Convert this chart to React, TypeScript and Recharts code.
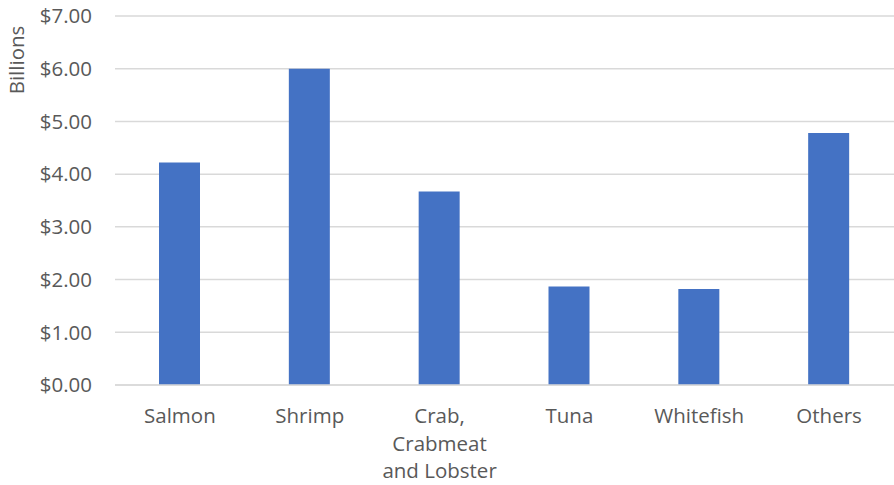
import React from 'react';
import { BarChart, Bar, XAxis, YAxis, CartesianGrid } from 'recharts';

const categories = ['Salmon', 'Shrimp', 'Crab, Crabmeat and Lobster', 'Tuna', 'Whitefish', 'Others'];
const categoryLines = [['Salmon'], ['Shrimp'], ['Crab,', 'Crabmeat', 'and Lobster'], ['Tuna'], ['Whitefish'], ['Others']];
const values = [4.22, 6.0, 3.67, 1.87, 1.82, 4.78];
const yTicks = [0, 1, 2, 3, 4, 5, 6, 7];

const FONT = '"Open Sans", sans-serif';
const FONT_SIZE = 20.5;
const TEXT_COLOR = '#595959';
const GRID_COLOR = '#d9d9d9';
const BAR_COLOR = '#4472c4';

const chartData = categories.map((name, i) => ({ name, value: values[i] }));

// multi-line category labels, centred under each bar
function CategoryTick(props: any) {
  const { x, y, payload } = props;
  const lines = categoryLines[payload.index] ?? [payload.value];
  return (
    <text x={x} y={y} textAnchor="middle" fill={TEXT_COLOR} fontFamily={FONT} fontSize={FONT_SIZE}>
      {lines.map((line: string, i: number) => (
        <tspan key={i} x={x} dy={i === 0 ? 30 : 27.5}>
          {line}
        </tspan>
      ))}
    </text>
  );
}

function AxisTitle() {
  return (
    <text
      x={24}
      y={60}
      transform="rotate(-90 24 60)"
      textAnchor="middle"
      fill={TEXT_COLOR}
      fontFamily={FONT}
      fontSize={FONT_SIZE}
    >
      Billions
    </text>
  );
}

export default function App() {
  return (
    <div style={{ position: 'absolute', left: 0, top: 0, background: '#fff' }}>
      <BarChart
        width={894}
        height={485}
        data={chartData}
        margin={{ top: 16, right: 0, bottom: 0, left: 0 }}
        barCategoryGap={0}
      >
        <CartesianGrid vertical={false} stroke={GRID_COLOR} strokeWidth={1.5} />
        <XAxis
          dataKey="name"
          height={100}
          tickLine={false}
          axisLine={{ stroke: GRID_COLOR, strokeWidth: 1.5 }}
          tick={<CategoryTick />}
          interval={0}
        />
        <YAxis
          width={115}
          domain={[0, 7]}
          ticks={yTicks}
          tickFormatter={(v: number) => `$${v.toFixed(2)}`}
          tickLine={false}
          axisLine={false}
          tickMargin={17}
          tick={{ fill: TEXT_COLOR, fontFamily: FONT, fontSize: FONT_SIZE }}
          label={<AxisTitle />}
        />
        <Bar dataKey="value" fill={BAR_COLOR} barSize={41} isAnimationActive={false} />
      </BarChart>
    </div>
  );
}
